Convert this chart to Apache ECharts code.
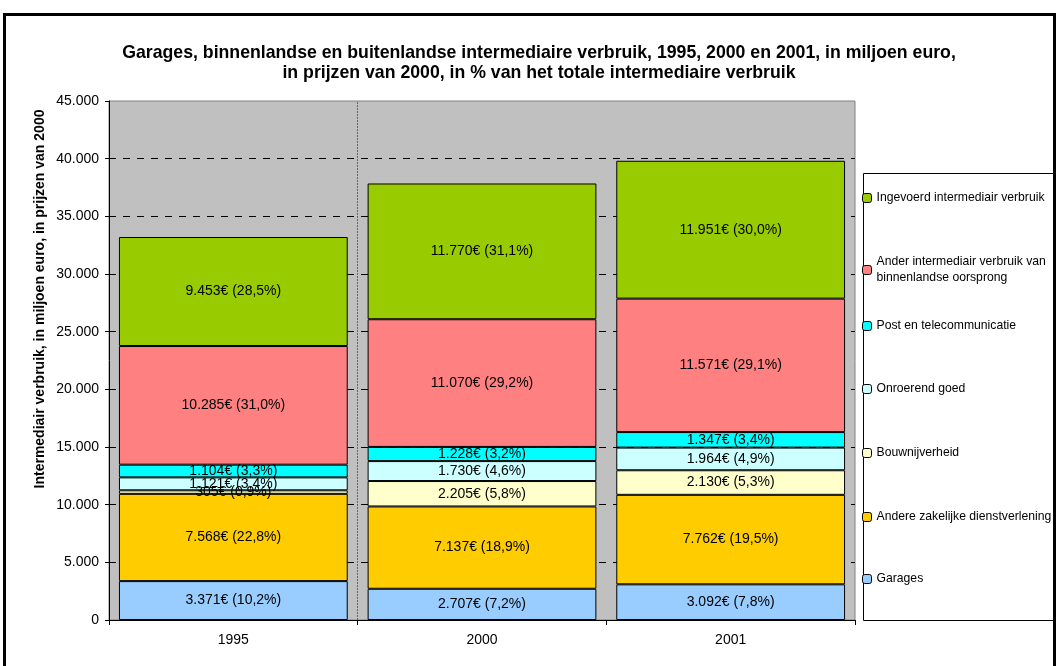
<!DOCTYPE html>
<html>
<head>
<meta charset="utf-8">
<script src="https://cdn.jsdelivr.net/npm/echarts@6/dist/echarts.min.js"></script>
<style>
    html, body { margin: 0; padding: 0; background: #fff; overflow: hidden; }
    #chart { width: 1056px; height: 666px; }
    #frame { position: absolute; left: 3px; top: 13px; width: 1047px; height: 700px;
             border: 3px solid #000; pointer-events: none; }
</style>
</head>
<body>
<div id="chart"></div>
<div id="frame"></div>
<script>
// jaren
var years = ['1995', '2000', '2001'];

// reeksen, van onder naar boven
var seriesNames = [
    'Garages',
    'Andere zakelijke dienstverlening',
    'Bouwnijverheid',
    'Onroerend goed',
    'Post en telecommunicatie',
    'Ander intermediair verbruik van\nbinnenlandse oorsprong',
    'Ingevoerd intermediair verbruik'
];
var garages   = [3371, 2707, 3092];
var zakelijk  = [7568, 7137, 7762];
var bouw      = [305, 2205, 2130];
var onroerend = [1121, 1730, 1964];
var post      = [1104, 1228, 1347];
var binnenl   = [10285, 11070, 11571];
var ingevoerd = [9453, 11770, 11951];

// aandelen in %
var pctGarages   = [10.2, 7.2, 7.8];
var pctZakelijk  = [22.8, 18.9, 19.5];
var pctBouw      = [0.9, 5.8, 5.3];
var pctOnroerend = [3.4, 4.6, 4.9];
var pctPost      = [3.3, 3.2, 3.4];
var pctBinnenl   = [31.0, 29.2, 29.1];
var pctIngevoerd = [28.5, 31.1, 30.0];

var yTicks = [0, 5000, 10000, 15000, 20000, 25000, 30000, 35000, 40000, 45000];

var colors = ['#99CCFF', '#FFCC00', '#FFFFCC', '#CCFFFF', '#00FFFF', '#FF8080', '#99CC00'];
var values = [garages, zakelijk, bouw, onroerend, post, binnenl, ingevoerd];
var pcts = [pctGarages, pctZakelijk, pctBouw, pctOnroerend, pctPost, pctBinnenl, pctIngevoerd];

var fmtNum = function (n) {
    return String(n).replace(/\B(?=(\d{3})+(?!\d))/g, '.');
};
var fmtPct = function (p) {
    return p.toFixed(1).replace('.', ',');
};

var font = 'Liberation Sans, Arial, sans-serif';

var series = [];
var legends = [];
// legenda-posities
var legendTops = [571, 509, 445, 381, 318, 254, 190];
for (var i = 0; i < seriesNames.length; i++) {
    (function (ii) {
        series.push({
            name: seriesNames[ii],
            type: 'bar',
            stack: 'totaal',
            barCategoryGap: '8%',
            data: values[ii],
            itemStyle: {color: colors[ii], borderColor: '#000', borderWidth: 1},
            label: {
                show: true,
                position: 'inside',
                color: '#000',
                fontFamily: font,
                fontSize: 14,
                formatter: function (p) {
                    return fmtNum(p.value) + '€ (' + fmtPct(pcts[ii][p.dataIndex]) + '%)';
                }
            },
            emphasis: {disabled: true}
        });
        legends.push({
            data: [{name: seriesNames[ii], itemStyle: {color: colors[ii], borderColor: '#000', borderWidth: 1}}],
            left: 862,
            top: legendTops[ii],
            itemWidth: 9,
            itemHeight: 9,
            padding: 0,
            selectedMode: false,
            textStyle: {fontFamily: font, fontSize: 12.2, color: '#000', lineHeight: 16}
        });
    })(i);
}

// scheidingslijn tussen 1995 en 2000
series.push({
    type: 'line',
    xAxisIndex: 1,
    data: [],
    silent: true,
    markLine: {
        symbol: 'none',
        silent: true,
        label: {show: false},
        lineStyle: {color: '#666', type: [2, 1], width: 1},
        data: [{xAxis: 1}]
    }
});

var chart = echarts.init(document.getElementById('chart'));
chart.setOption({
    backgroundColor: '#fff',
    animation: false,
    title: {
        text: 'Garages, binnenlandse en buitenlandse intermediaire verbruik, 1995, 2000 en 2001, in miljoen euro,\nin prijzen van 2000, in % van het totale intermediaire verbruik',
        left: 534,
        textAlign: 'center',
        top: 38,
        textStyle: {fontFamily: font, fontSize: 17.7, fontWeight: 'bold', color: '#000', lineHeight: 20}
    },
    legend: legends,
    graphic: [{
        type: 'rect',
        shape: {x: 863.5, y: 173.5, width: 200, height: 447},
        style: {fill: null, stroke: '#000', lineWidth: 1},
        z: -1
    }, {
        type: 'text',
        x: 40,
        y: 299,
        rotation: Math.PI / 2,
        style: {
            text: 'Intermediair verbruik, in miljoen euro, in prijzen van 2000',
            font: 'bold 14px Liberation Sans, Arial, sans-serif',
            fill: '#000',
            align: 'center',
            verticalAlign: 'middle'
        }
    }],
    grid: {
        left: 109, right: 201, top: 101, bottom: 46,
        show: true, backgroundColor: '#C0C0C0', borderColor: '#808080', borderWidth: 1
    },
    xAxis: [{
        type: 'category',
        data: years,
        axisLine: {lineStyle: {color: '#000'}},
        axisTick: {show: true, length: 5, lineStyle: {color: '#000'}},
        axisLabel: {fontFamily: font, fontSize: 14, color: '#000', margin: 13},
        splitLine: {show: false}
    }, {
        type: 'value',
        min: 0,
        max: years.length,
        show: false
    }],
    yAxis: {
        type: 'value',
        min: yTicks[0],
        max: yTicks[yTicks.length - 1],
        interval: yTicks[1] - yTicks[0],
        axisLine: {show: true, lineStyle: {color: '#000'}},
        axisTick: {show: true, length: 4, lineStyle: {color: '#000'}},
        axisLabel: {fontFamily: font, fontSize: 14, color: '#000', margin: 10, formatter: fmtNum},
        splitLine: {show: true, showMinLine: false, showMaxLine: false, lineStyle: {color: '#000', type: [7, 7], width: 1}}
    },
    series: series
});
</script>
</body>
</html>
